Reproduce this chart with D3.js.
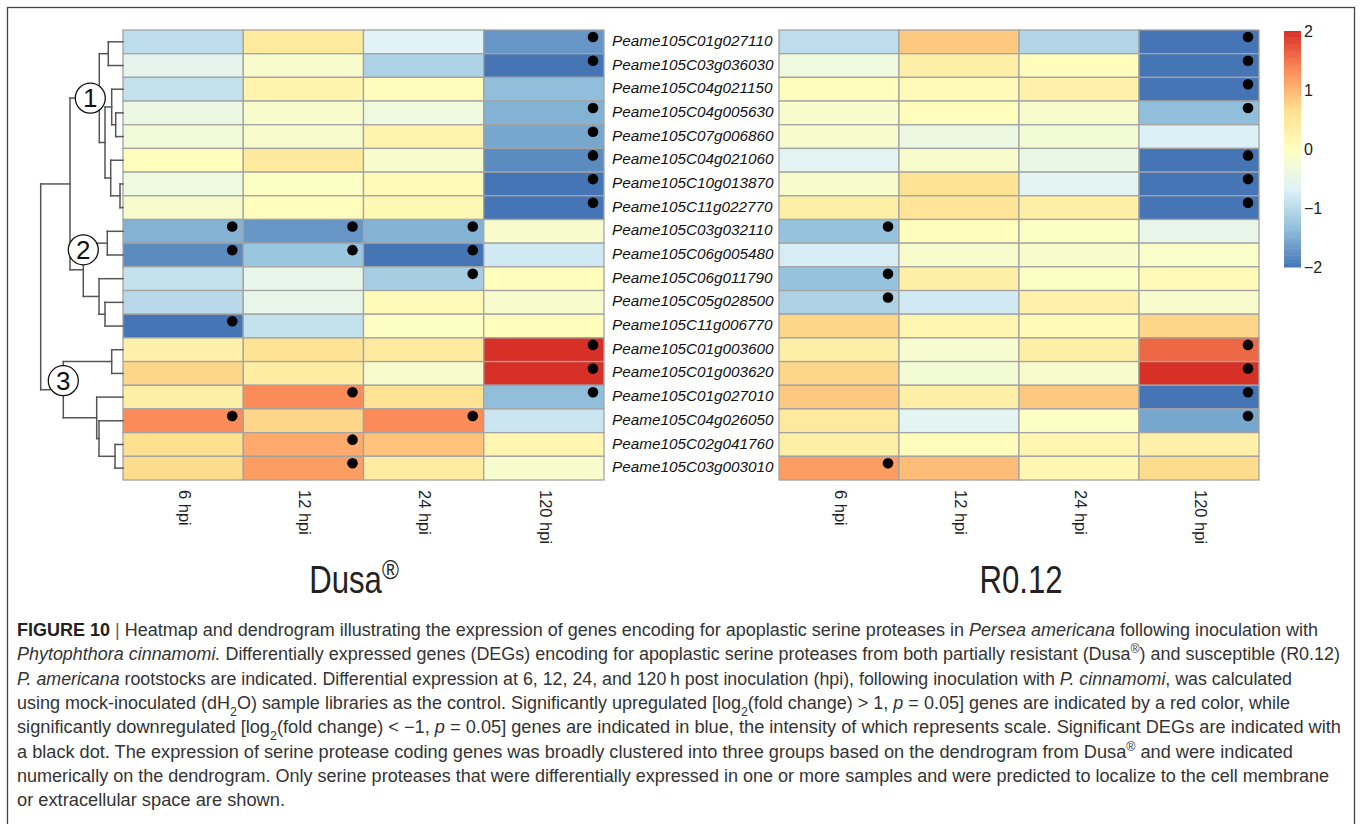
<!DOCTYPE html>
<html>
<head>
<meta charset="utf-8">
<script src="https://cdn.jsdelivr.net/npm/d3@7"></script>
<style>
  body { margin: 0; background: #fff; }
  svg { display: block; }
</style>
</head>
<body>
<div id="chart"></div>
<script>
// ---- data ----
var genes = ["Peame105C01g027110","Peame105C03g036030","Peame105C04g021150","Peame105C04g005630",
  "Peame105C07g006860","Peame105C04g021060","Peame105C10g013870","Peame105C11g022770",
  "Peame105C03g032110","Peame105C06g005480","Peame105C06g011790","Peame105C05g028500",
  "Peame105C11g006770","Peame105C01g003600","Peame105C01g003620","Peame105C01g027010",
  "Peame105C04g026050","Peame105C02g041760","Peame105C03g003010"];

var timepoints = ["6 hpi", "12 hpi", "24 hpi", "120 hpi"];

// log2 fold change, rows = genes, cols = timepoints
var dusaFC = [
  [-0.95, 0.45, -0.65, -1.7],
  [-0.55, -0.15, -1.1, -2.0],
  [-0.9, 0.25, 0.05, -1.33],
  [-0.4, -0.15, -0.35, -1.45],
  [-0.3, -0.15, 0.25, -1.55],
  [0.05, 0.45, -0.15, -1.8],
  [-0.35, -0.05, 0.1, -2.0],
  [-0.15, 0.05, 0.15, -2.0],
  [-1.45, -1.7, -1.45, -0.15],
  [-1.8, -1.25, -2.0, -0.8],
  [-0.9, -0.5, -1.15, 0.05],
  [-1.0, -0.5, 0.1, -0.15],
  [-2.0, -0.9, -0.05, 0.05],
  [0.3, 0.6, 0.45, 2.2],
  [0.75, 0.4, -0.15, 2.2],
  [0.35, 1.35, 0.6, -1.33],
  [1.35, 0.75, 1.35, -0.85],
  [0.67, 1.1, 0.9, 0.2],
  [0.7, 1.2, 0.4, -0.15]
];
var dusaSig = [
  [0,0,0,1],[0,0,0,1],[0,0,0,0],[0,0,0,1],[0,0,0,1],[0,0,0,1],[0,0,0,1],[0,0,0,1],
  [1,1,1,0],[1,1,1,0],[0,0,1,0],[0,0,0,0],[1,0,0,0],
  [0,0,0,1],[0,0,0,1],[0,1,0,1],[1,0,1,0],[0,1,0,0],[0,1,0,0]
];

var r012FC = [
  [-0.95, 0.85, -1.05, -2.0],
  [-0.35, 0.35, 0.05, -2.0],
  [0.05, 0.1, 0.3, -2.0],
  [-0.15, 0.05, -0.15, -1.33],
  [-0.15, -0.4, -0.25, -0.7],
  [-0.6, -0.15, -0.45, -2.0],
  [-0.15, 0.6, -0.6, -2.0],
  [0.35, 0.55, 0.35, -2.0],
  [-1.3, 0.05, -0.05, -0.5],
  [-0.75, -0.15, -0.15, -0.12],
  [-1.3, 0.35, -0.05, 0.1],
  [-1.1, -0.8, 0.3, -0.15],
  [0.75, 0.2, 0.1, 0.75],
  [0.35, -0.2, 0.35, 1.6],
  [0.75, -0.25, -0.15, 2.1],
  [0.85, 0.35, 0.85, -2.0],
  [0.45, -0.6, -0.05, -1.55],
  [0.35, 0.05, 0.2, 0.3],
  [1.2, 0.95, 0.2, 0.7]
];
var r012Sig = [
  [0,0,0,1],[0,0,0,1],[0,0,0,1],[0,0,0,1],[0,0,0,0],[0,0,0,1],[0,0,0,1],[0,0,0,1],
  [1,0,0,0],[0,0,0,0],[1,0,0,0],[1,0,0,0],[0,0,0,0],
  [0,0,0,1],[0,0,0,1],[0,0,0,1],[0,0,0,1],[0,0,0,0],[1,0,0,0]
];

// hclust style merges (Dusa rows): negative = leaf (row number, 1-based), positive = earlier merge
var dendroMerge = [
  [-1, -2, 14.7],
  [-4, -5, 7.3],
  [-3, 2, 11.3],
  [-7, -8, 3],
  [-6, 4, 12.3],
  [3, 5, 18],
  [1, 6, 23.7],     // 7: group 1
  [-9, -10, 15.7],
  [-12, -13, 18],
  [-11, 9, 24],
  [8, 10, 39.7],    // 11: group 2
  [7, 11, 53],
  [-14, -15, 11.3],
  [-18, -19, 8],
  [-17, 14, 24],
  [-16, 15, 26.3],
  [13, 16, 59.7],   // 17: group 3
  [12, 17, 82.3]
];
var groupNodes = [7, 11, 17];
var groupLabels = ["1", "2", "3"];

var legendTicks = [2, 1, 0, -1, -2];
var paletteStops = ["#4575B4","#91BFDB","#E0F3F8","#FFFFBF","#FEE090","#FC8D59","#D73027"];

// ---- layout ----
var W = 1360, H = 824;
var svg = d3.select("#chart").append("svg").attr("width", W).attr("height", H)
    .style("font-family", "'Liberation Sans', Arial, sans-serif");

svg.append("rect").attr("x", 7.5).attr("y", 7.5).attr("width", 1347).attr("height", 840)
    .attr("fill", "none").attr("stroke", "#444").attr("stroke-width", 1.3);

var color = d3.scaleLinear()
    .domain(d3.range(7).map(function(i) { return -2 + i * 4 / 6; }))
    .range(paletteStops).clamp(true);

var y = d3.scaleBand().domain(genes).range([30, 480]);
var xDusa = d3.scaleBand().domain(timepoints).range([123, 604]);
var xR = d3.scaleBand().domain(timepoints).range([779, 1259]);

function heatmap(x, fc, sig, title, titleX) {
  var g = svg.append("g");
  var cells = [];
  genes.forEach(function(gene, i) {
    timepoints.forEach(function(t, j) {
      cells.push({gene: gene, t: t, v: fc[i][j], s: sig[i][j]});
    });
  });
  g.selectAll("rect.cell").data(cells).enter().append("rect")
      .attr("class", "cell")
      .attr("x", function(d) { return x(d.t); })
      .attr("y", function(d) { return y(d.gene); })
      .attr("width", x.bandwidth())
      .attr("height", y.bandwidth())
      .attr("fill", function(d) { return color(d.v); })
      .attr("stroke", "#a3a3a3").attr("stroke-width", 1.3);

  g.selectAll("circle.dot").data(cells.filter(function(d) { return d.s; })).enter().append("circle")
      .attr("class", "dot")
      .attr("cx", function(d) { return x(d.t) + x.bandwidth() - 11; })
      .attr("cy", function(d) { return y(d.gene) + 7; })
      .attr("r", 5.3)
      .attr("fill", "#000");

  g.selectAll("text.col").data(timepoints).enter().append("text")
      .attr("class", "col")
      .attr("transform", function(t) { return "translate(" + (x(t) + x.bandwidth() / 2) + ",490) rotate(90)"; })
      .attr("dominant-baseline", "middle")
      .attr("font-size", 16.5)
      .attr("fill", "#222")
      .text(function(t) { return t; });

  // condensed title, squeezed horizontally
  var tt = g.append("text")
      .attr("transform", "translate(" + titleX + ",593) scale(0.82,1)")
      .attr("text-anchor", "middle")
      .attr("font-size", 38)
      .attr("fill", "#222");
  tt.append("tspan").text(title[0]);
  if (title[1]) tt.append("tspan").attr("font-size", 28).attr("dy", -14).text(title[1]);
}

heatmap(xDusa, dusaFC, dusaSig, ["Dusa", "\u00AE"], 354);
heatmap(xR, r012FC, r012Sig, ["R0.12"], 1021);

// gene labels
svg.append("g").selectAll("text").data(genes).enter().append("text")
    .attr("x", 612)
    .attr("y", function(d) { return y(d) + y.bandwidth() / 2; })
    .attr("dominant-baseline", "middle")
    .attr("font-size", 15.3)
    .attr("font-style", "italic")
    .attr("fill", "#111")
    .text(function(d) { return d; });

// ---- dendrogram ----
var hx = d3.scaleLinear().domain([0, d3.max(dendroMerge, function(m) { return m[2]; })]).range([123, 40.7]);
var nodes = [];
function pos(id) {
  if (id < 0) return {x: hx(0), y: y(genes[-id - 1]) + y.bandwidth() / 2};
  return nodes[id - 1];
}
dendroMerge.forEach(function(m) {
  var a = pos(m[0]), b = pos(m[1]);
  nodes.push({x: hx(m[2]), y: (a.y + b.y) / 2, a: a, b: b});
});
var segs = [];
nodes.forEach(function(n) {
  segs.push([n.x, n.a.y, n.x, n.b.y]);
  segs.push([n.x, n.a.y, n.a.x, n.a.y]);
  segs.push([n.x, n.b.y, n.b.x, n.b.y]);
});
var dg = svg.append("g");
dg.selectAll("line").data(segs).enter().append("line")
    .attr("x1", function(s) { return s[0]; }).attr("y1", function(s) { return s[1]; })
    .attr("x2", function(s) { return s[2]; }).attr("y2", function(s) { return s[3]; })
    .attr("stroke", "#555").attr("stroke-width", 1.5).attr("stroke-linecap", "square");

// hand-placed group markers, nudged from their nodes
var markerShift = [[-9, 0], [0, -20], [0, -9]];
var mk = dg.selectAll("g.mk").data(groupNodes).enter().append("g")
    .attr("transform", function(id, i) {
      var n = nodes[id - 1];
      return "translate(" + (n.x + markerShift[i][0]) + "," + (n.y + markerShift[i][1]) + ")";
    });
mk.append("circle").attr("r", 15).attr("fill", "#fff").attr("stroke", "#111").attr("stroke-width", 1.3);
mk.append("text").attr("text-anchor", "middle").attr("dominant-baseline", "central")
    .attr("font-size", 26).attr("fill", "#111")
    .text(function(id, i) { return groupLabels[i]; });

// ---- colour legend ----
var ly = d3.scaleLinear().domain([2, -2]).range([31, 267]);
var steps = d3.range(-2, 2, 0.04);
svg.append("g").selectAll("rect").data(steps).enter().append("rect")
    .attr("x", 1284).attr("width", 17)
    .attr("y", function(v) { return ly(v + 0.04); })
    .attr("height", function(v) { return ly(v) - ly(v + 0.04) + 0.5; })
    .attr("fill", function(v) { return color(v + 0.02); });
svg.append("g").selectAll("text").data(legendTicks).enter().append("text")
    .attr("x", 1304)
    .attr("y", function(v) { return ly(v); })
    .attr("dominant-baseline", "central")
    .attr("font-size", 16).attr("fill", "#222")
    .text(function(v) { return v < 0 ? "\u2212" + (-v) : v; });

// ---- caption ----
var captionLines = [
  [["b", "FIGURE 10 "], ["l", "| "], ["", "Heatmap and dendrogram illustrating the expression of genes encoding for apoplastic serine proteases in "], ["i", "Persea americana"], ["", " following inoculation with"]],
  [["i", "Phytophthora cinnamomi."], ["", " Differentially expressed genes (DEGs) encoding for apoplastic serine proteases from both partially resistant (Dusa"], ["sup", "\u00AE"], ["", ") and susceptible (R0.12)"]],
  [["i", "P. americana"], ["", " rootstocks are indicated. Differential expression at 6, 12, 24, and 120\u2009h post inoculation (hpi), following inoculation with "], ["i", "P. cinnamomi"], ["", ", was calculated"]],
  [["", "using mock-inoculated (dH"], ["sub", "2"], ["", "O) sample libraries as the control. Significantly upregulated [log"], ["sub", "2"], ["", "(fold change) > 1, "], ["i", "p"], ["", " = 0.05] genes are indicated by a red color, while"]],
  [["", "significantly downregulated [log"], ["sub", "2"], ["", "(fold change) < \u22121, "], ["i", "p"], ["", " = 0.05] genes are indicated in blue, the intensity of which represents scale. Significant DEGs are indicated with"]],
  [["", "a black dot. The expression of serine protease coding genes was broadly clustered into three groups based on the dendrogram from Dusa"], ["sup", "\u00AE"], ["", " and were indicated"]],
  [["", "numerically on the dendrogram. Only serine proteases that were differentially expressed in one or more samples and were predicted to localize to the cell membrane"]],
  [["", "or extracellular space are shown."]]
];
var captionEnds = [1318, 1340, 1292, 1290, 1341, 1293, 1329, 285];

var cap = svg.append("g").attr("fill", "#333").attr("font-size", 17.5);
captionLines.forEach(function(line, i) {
  var t = cap.append("text").attr("x", 17).attr("y", 636 + i * 24.3)
      .attr("textLength", captionEnds[i] - 17).attr("lengthAdjust", "spacingAndGlyphs");
  line.forEach(function(p) {
    var s = t.append("tspan").text(p[1]);
    if (p[0] === "b") s.attr("font-weight", "bold").attr("fill", "#222");
    if (p[0] === "l") s.attr("fill", "#666");
    if (p[0] === "i") s.attr("font-style", "italic");
    if (p[0] === "sub") s.attr("font-size", 12).attr("baseline-shift", "sub");
    if (p[0] === "sup") s.attr("font-size", 12).attr("baseline-shift", "super");
  });
});
</script>
</body>
</html>
